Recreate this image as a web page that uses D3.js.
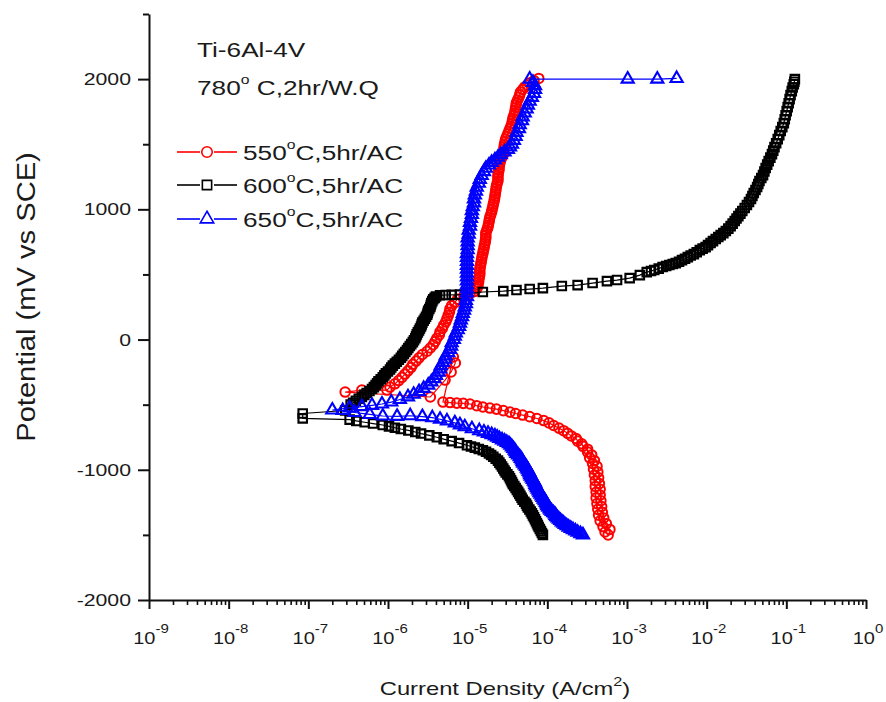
<!DOCTYPE html>
<html>
<head>
<meta charset="utf-8">
<script src="https://cdn.jsdelivr.net/npm/d3@7"></script>
<style>
  body { margin: 0; background: #fff; }
  text { font-family: "Liberation Sans", Arial, sans-serif; fill: #1a1a1a; }
</style>
</head>
<body>
<div id="chart"></div>
<script>
// current density (A/cm2), potential (mV vs SCE) in scan order
const red550 = [
  [5.8e-4,-1500],[5.3e-4,-1478],[6.1e-4,-1458],[5.0e-4,-1436],[5.5e-4,-1414],[4.6e-4,-1392],[5.1e-4,-1370],[4.4e-4,-1348],
  [4.9e-4,-1326],[4.3e-4,-1304],[4.8e-4,-1282],[4.2e-4,-1260],[4.7e-4,-1238],[4.1e-4,-1216],[4.6e-4,-1194],[4.1e-4,-1172],
  [4.6e-4,-1150],[4.0e-4,-1128],[4.5e-4,-1106],[4.0e-4,-1084],[4.4e-4,-1062],[3.9e-4,-1040],[4.3e-4,-1018],[3.8e-4,-996],
  [4.2e-4,-974],[3.7e-4,-952],[3.9e-4,-930],[3.4e-4,-908],[3.6e-4,-886],[3.2e-4,-864],[3.2e-4,-842],[2.8e-4,-820],
  [2.7e-4,-800],[2.4e-4,-780],[2.3e-4,-760],[2.0e-4,-740],[1.8e-4,-720],[1.6e-4,-700],[1.4e-4,-680],[1.2e-4,-660],
  [1.05e-4,-640],[9.0e-5,-622],[7.4e-5,-606],[6.0e-5,-592],[4.9e-5,-580],[4.0e-5,-568],[3.4e-5,-557],[2.8e-5,-546],
  [2.3e-5,-534],[1.9e-5,-526],[1.55e-5,-518],[1.3e-5,-508],[1.07e-5,-495],[8.8e-6,-490],[7.3e-6,-488],[6.0e-6,-484],
  [4.9e-6,-480],[6.6e-6,-134],[7.0e-6,-180],[6.2e-6,-249],[5.2e-6,-311],[3.4e-6,-441],
  [2.9e-7,-403],[4.7e-7,-388],
  [9.7e-7,-388],[1.06e-6,-365],[1.22e-6,-340],[1.36e-6,-315],[1.5e-6,-290],[1.63e-6,-265],[1.78e-6,-240],[1.94e-6,-215],
  [2.05e-6,-190],[2.25e-6,-165],[2.45e-6,-140],[2.7e-6,-115],[3.1e-6,-90],[3.4e-6,-65],[3.7e-6,-40],[3.9e-6,-15],
  [4.1e-6,10],[4.4e-6,35],[4.5e-6,60],[4.8e-6,85],[5.0e-6,110],[5.3e-6,135],[5.5e-6,160],[5.7e-6,185],[5.9e-6,210],
  [6.0e-6,235],[6.3e-6,260],[6.9e-6,285],[7.5e-6,310],[9.0e-6,335],[1.07e-5,355],[1.23e-5,370],[1.3e-5,390],
  [1.33e-5,405],[1.35e-5,420],[1.37e-5,440],[1.38e-5,460],[1.4e-5,480],[1.42e-5,500],[1.42e-5,520],[1.42e-5,540],
  [1.44e-5,560],[1.46e-5,580],[1.48e-5,600],[1.5e-5,620],[1.52e-5,640],[1.55e-5,660],[1.57e-5,680],[1.6e-5,700],
  [1.62e-5,720],[1.65e-5,740],[1.67e-5,760],[1.69e-5,780],[1.69e-5,800],[1.69e-5,820],[1.74e-5,840],[1.79e-5,860],
  [1.82e-5,880],[1.85e-5,900],[1.87e-5,920],[1.9e-5,940],[1.95e-5,960],[2.0e-5,980],[2.03e-5,1000],[2.07e-5,1020],
  [2.1e-5,1040],[2.14e-5,1060],[2.17e-5,1080],[2.2e-5,1100],[2.22e-5,1120],[2.25e-5,1140],[2.27e-5,1160],[2.3e-5,1180],
  [2.35e-5,1200],[2.4e-5,1220],[2.4e-5,1240],[2.4e-5,1260],[2.43e-5,1280],[2.47e-5,1300],[2.48e-5,1320],[2.5e-5,1340],
  [2.55e-5,1360],[2.6e-5,1380],[2.7e-5,1400],[2.8e-5,1420],[2.82e-5,1440],[2.85e-5,1460],[2.87e-5,1480],[2.9e-5,1500],
  [2.95e-5,1520],[3.0e-5,1540],[3.1e-5,1560],[3.2e-5,1580],[3.3e-5,1600],[3.4e-5,1620],[3.5e-5,1640],[3.6e-5,1660],
  [3.65e-5,1680],[3.7e-5,1700],[3.8e-5,1720],[3.9e-5,1740],[3.95e-5,1760],[4.0e-5,1780],[4.05e-5,1800],[4.1e-5,1820],
  [4.25e-5,1840],[4.4e-5,1860],[4.5e-5,1880],[4.6e-5,1900],[4.9e-5,1920],[5.2e-5,1940],[5.6e-5,1955],[6.0e-5,1970],
  [6.8e-5,1988],[7.8e-5,2005]
];

const black600 = [
  [8.8e-5,-1500],[8.55e-5,-1485],[8.3e-5,-1470],[8.05e-5,-1455],[7.8e-5,-1440],[7.6e-5,-1425],[7.4e-5,-1410],[7.2e-5,-1395],
  [7.0e-5,-1380],[6.8e-5,-1365],[6.6e-5,-1350],[6.4e-5,-1335],[6.2e-5,-1320],[5.95e-5,-1305],[5.7e-5,-1290],[5.55e-5,-1275],
  [5.4e-5,-1260],[5.15e-5,-1245],[4.9e-5,-1230],[4.75e-5,-1215],[4.6e-5,-1200],[4.45e-5,-1185],[4.3e-5,-1170],[4.15e-5,-1155],
  [4.0e-5,-1140],[3.85e-5,-1125],[3.7e-5,-1110],[3.6e-5,-1095],[3.5e-5,-1080],[3.4e-5,-1065],[3.3e-5,-1050],[3.15e-5,-1035],
  [3.0e-5,-1020],[2.9e-5,-1005],[2.8e-5,-990],[2.7e-5,-975],[2.6e-5,-960],[2.5e-5,-945],[2.4e-5,-930],[2.25e-5,-915],
  [2.1e-5,-900],[1.97e-5,-887],[1.85e-5,-875],[1.7e-5,-862],[1.55e-5,-850],[1.38e-5,-840],[1.23e-5,-830],[1.1e-5,-821],
  [9.8e-6,-812],[7.8e-6,-795],[6.3e-6,-780],[5.0e-6,-765],[4.1e-6,-750],[3.3e-6,-736],[2.6e-6,-722],[2.2e-6,-710],
  [1.8e-6,-698],[1.45e-6,-687],[1.22e-6,-677],[1.03e-6,-667],[8.6e-7,-656],[6.5e-7,-645],[5.1e-7,-635],[4.0e-7,-625],
  [3.3e-7,-615],[8.5e-8,-605],[8.5e-8,-568],
  [2.9e-7,-545],[3.4e-7,-500],[3.65e-7,-485],[3.95e-7,-470],[4.3e-7,-455],[4.7e-7,-440],[5.05e-7,-425],[5.4e-7,-410],
  [5.85e-7,-395],[6.3e-7,-380],[6.65e-7,-365],[7.0e-7,-350],[7.3e-7,-335],[7.6e-7,-320],[8.1e-7,-305],[8.6e-7,-290],
  [9.0e-7,-275],[9.4e-7,-260],[1.0e-6,-245],[1.06e-6,-230],[1.1e-6,-215],[1.15e-6,-200],[1.22e-6,-185],[1.29e-6,-170],
  [1.37e-6,-155],[1.45e-6,-140],[1.51e-6,-125],[1.58e-6,-110],[1.65e-6,-95],[1.73e-6,-80],[1.8e-6,-65],[1.88e-6,-50],
  [1.96e-6,-35],[2.05e-6,-20],[2.12e-6,-5],[2.2e-6,10],[2.25e-6,25],[2.3e-6,40],[2.37e-6,55],[2.45e-6,70],[2.52e-6,85],
  [2.6e-6,100],[2.65e-6,115],[2.7e-6,130],[2.8e-6,145],[2.9e-6,160],[3.0e-6,175],[3.1e-6,190],[3.15e-6,205],[3.2e-6,220],
  [3.3e-6,235],[3.4e-6,250],[3.45e-6,265],[3.5e-6,280],[3.6e-6,295],[3.7e-6,310],[3.85e-6,320],[4.0e-6,330],[4.5e-6,340],
  [5.3e-6,342],[6.3e-6,343],[8.0e-6,345],
  [1.55e-5,365],[2.8e-5,372],[4.1e-5,380],[6.0e-5,388],[8.8e-5,395],[1.52e-4,411],[2.4e-4,418],[3.7e-4,434],
  [5.6e-4,449],[7.5e-4,457],[1.08e-3,472],[1.45e-3,495],[1.77e-3,518],
  [2.0e-3,526],[2.2e-3,534],[2.5e-3,545],[2.8e-3,557],[3.1e-3,565],[3.4e-3,572],[3.75e-3,580],[4.1e-3,587],[4.5e-3,598],
  [4.9e-3,610],[5.35e-3,621],[5.8e-3,633],[6.3e-3,645],[6.9e-3,656],[7.5e-3,671],[8.2e-3,687],[8.9e-3,698],[9.7e-3,710],
  [1.04e-2,725],[1.12e-2,741],[1.2e-2,756],[1.3e-2,772],[1.4e-2,787],[1.5e-2,802],[1.62e-2,817],[1.74e-2,833],
  [1.87e-2,852],[2.0e-2,871],[2.12e-2,890],[2.25e-2,910],[2.37e-2,929],[2.5e-2,948],[2.65e-2,967],[2.8e-2,987],
  [3.0e-2,1010],[3.2e-2,1033],[3.4e-2,1056],[3.6e-2,1079],[3.75e-2,1102],[3.9e-2,1125],[4.1e-2,1148],[4.3e-2,1171],
  [4.45e-2,1194],[4.6e-2,1217],[4.85e-2,1240],[5.1e-2,1263],[5.3e-2,1290],[5.5e-2,1317],[5.75e-2,1343],[6.0e-2,1370],
  [6.3e-2,1397],[6.6e-2,1424],[6.85e-2,1451],[7.1e-2,1478],[7.45e-2,1508],[7.8e-2,1539],[8.15e-2,1570],[8.5e-2,1601],
  [8.9e-2,1631],[9.3e-2,1662],[9.55e-2,1692],[9.8e-2,1723],[0.101,1754],[0.104,1785],[0.107,1815],[0.11,1846],
  [0.113,1877],[0.117,1908],[0.12,1935],[0.124,1961],[0.126,1980],[0.128,2000]
];

const blue650 = [
  [2.8e-4,-1500],[2.6e-4,-1490],[2.4e-4,-1480],[2.25e-4,-1470],[2.1e-4,-1460],[1.97e-4,-1450],[1.85e-4,-1440],[1.75e-4,-1430],
  [1.66e-4,-1420],[1.59e-4,-1410],[1.52e-4,-1400],[1.46e-4,-1390],[1.4e-4,-1380],[1.35e-4,-1370],[1.3e-4,-1360],[1.27e-4,-1350],
  [1.24e-4,-1340],[1.19e-4,-1330],[1.14e-4,-1320],[1.1e-4,-1310],[1.07e-4,-1300],[1.03e-4,-1287],[1.0e-4,-1275],[9.8e-5,-1262],
  [9.6e-5,-1250],[9.3e-5,-1237],[9.0e-5,-1225],[8.75e-5,-1212],[8.5e-5,-1200],[8.25e-5,-1187],[8.0e-5,-1175],[7.8e-5,-1162],
  [7.6e-5,-1150],[7.4e-5,-1137],[7.2e-5,-1125],[7.1e-5,-1112],[7.0e-5,-1100],[6.8e-5,-1087],[6.6e-5,-1075],[6.4e-5,-1062],
  [6.2e-5,-1050],[6.1e-5,-1037],[6.0e-5,-1025],[5.85e-5,-1012],[5.7e-5,-1000],[5.55e-5,-987],[5.4e-5,-975],[5.2e-5,-962],
  [5.0e-5,-950],[4.9e-5,-937],[4.8e-5,-925],[4.65e-5,-912],[4.5e-5,-900],[4.3e-5,-887],[4.1e-5,-875],[4.0e-5,-862],
  [3.9e-5,-850],[3.75e-5,-837],[3.6e-5,-825],[3.45e-5,-812],[3.3e-5,-800],[3.1e-5,-790],[2.9e-5,-780],[2.7e-5,-770],
  [2.5e-5,-760],[2.35e-5,-750],[2.2e-5,-740],[2.0e-5,-730],[1.8e-5,-720],[1.6e-5,-710],[1.4e-5,-700],[1.13e-5,-685],
  [9.2e-6,-670],[8.0e-6,-655],[6.9e-6,-640],[5.5e-6,-625],[4.5e-6,-612],[3.6e-6,-600],[2.7e-6,-592],[1.9e-6,-585],
  [1.3e-6,-590],[8.6e-7,-587],[5.9e-7,-575],[3.8e-7,-560],[2.7e-7,-545],[2.0e-7,-541],
  [3.3e-7,-525],[4.7e-7,-515],[6.3e-7,-505],[8.4e-7,-495],[1.1e-6,-480],[1.41e-6,-460],[1.78e-6,-440],[2.1e-6,-420],
  [2.45e-6,-400],[2.8e-6,-375],[3.2e-6,-350],[3.5e-6,-325],[3.8e-6,-300],[4.0e-6,-275],[4.3e-6,-250],[4.5e-6,-225],
  [4.6e-6,-200],[4.9e-6,-175],[5.2e-6,-150],[5.3e-6,-125],[5.7e-6,-100],[6.0e-6,-75],[6.2e-6,-50],[6.3e-6,-25],
  [6.7e-6,0],[6.9e-6,25],[7.1e-6,50],[7.5e-6,75],[7.8e-6,100],[8.0e-6,125],[8.2e-6,150],[8.5e-6,175],[8.7e-6,200],
  [9.0e-6,225],[9.2e-6,250],[9.5e-6,275],[9.5e-6,300],[9.8e-6,330],[9.8e-6,360],[9.8e-6,390],[9.8e-6,420],[9.8e-6,450],
  [9.8e-6,480],[9.8e-6,510],[9.8e-6,540],[9.8e-6,570],[9.8e-6,600],[9.8e-6,630],[9.8e-6,660],[1.0e-5,690],[1.0e-5,720],
  [1.0e-5,750],[1.0e-5,780],[1.03e-5,810],[1.03e-5,840],[1.07e-5,870],[1.07e-5,900],[1.1e-5,930],[1.13e-5,960],
  [1.13e-5,990],[1.16e-5,1020],[1.2e-5,1050],[1.2e-5,1080],[1.23e-5,1110],[1.27e-5,1140],[1.3e-5,1170],[1.38e-5,1200],
  [1.42e-5,1230],[1.5e-5,1260],[1.6e-5,1290],[1.69e-5,1315],[1.85e-5,1340],[2.0e-5,1360],[2.2e-5,1380],[2.4e-5,1400],
  [2.6e-5,1420],[2.9e-5,1440],[3.2e-5,1460],[3.4e-5,1480],[3.6e-5,1500],[3.8e-5,1530],[4.0e-5,1560],[4.1e-5,1590],
  [4.4e-5,1620],[4.5e-5,1650],[4.8e-5,1680],[4.9e-5,1710],[5.2e-5,1740],[5.5e-5,1770],[5.7e-5,1800],[6.0e-5,1830],
  [6.4e-5,1860],[6.8e-5,1890],[7.0e-5,1920],[7.0e-5,1950],[6.6e-5,1975],[6.0e-5,2000],
  [1.02e-3,2000],[2.4e-3,2000],[4.2e-3,2005]
];

const legendTemps = ["550", "600", "650"];
const legendRest = "C,5hr/AC";
const noteLines = ["Ti-6Al-4V", "780"];
const xExponents = [-9, -8, -7, -6, -5, -4, -3, -2, -1, 0];
const yMajor = [-2000, -1000, 0, 1000, 2000];
const yMinor = [-1500, -500, 500, 1500, 2500];

const W = 886, H = 702;
const svg = d3.select('#chart').append('svg')
  .attr('width', W)
  .attr('height', H);

const x = d3.scaleLog().domain([1e-9, 1]).range([149, 866]);
const y = d3.scaleLinear().domain([-2000, 2500]).range([600, 14]);

// text in the original is wider than the font, so stretch it
function label(tx, ty, size, anchor, sx) {
  return svg.append('text')
    .attr('transform', `translate(${tx},${ty}) scale(${sx || 1.25},1)`)
    .attr('font-size', size)
    .attr('text-anchor', anchor || 'start');
}

// x axis
const xMajorVals = xExponents.map(e => Math.pow(10, e));
const xMinorVals = x.ticks().filter(v => !xMajorVals.some(m => Math.abs(m - v) / m < 1e-6));
svg.append('g')
  .attr('transform', 'translate(0,600)')
  .call(d3.axisBottom(x).tickValues(xMinorVals).tickSize(5).tickSizeOuter(0).tickFormat(''))
  .call(g => g.select('.domain').remove())
  .call(g => g.selectAll('line').attr('stroke', '#111').attr('stroke-width', 1.6));
svg.append('g')
  .attr('transform', 'translate(0,600)')
  .call(d3.axisBottom(x).tickValues(xMajorVals).tickSize(9).tickSizeOuter(0).tickFormat(''))
  .call(g => g.select('.domain').attr('stroke', '#111').attr('stroke-width', 2))
  .call(g => g.selectAll('line').attr('stroke', '#111').attr('stroke-width', 2));

xExponents.forEach(e => {
  const t = label(x(Math.pow(10, e)) + 2, 644, 16, 'middle');
  t.append('tspan').text('10');
  t.append('tspan').attr('font-size', 12).attr('dy', -11).text(e === 0 ? '0' : '-' + Math.abs(e));
});

// y axis
svg.append('g')
  .attr('transform', 'translate(149,0)')
  .call(d3.axisLeft(y).tickValues(yMinor).tickSize(6).tickSizeOuter(0).tickFormat(''))
  .call(g => g.select('.domain').remove())
  .call(g => g.selectAll('line').attr('stroke', '#111').attr('stroke-width', 2));
svg.append('g')
  .attr('transform', 'translate(149,0)')
  .call(d3.axisLeft(y).tickValues(yMajor).tickSize(11).tickSizeOuter(0).tickFormat(''))
  .call(g => g.select('.domain').attr('stroke', '#111').attr('stroke-width', 2))
  .call(g => g.selectAll('line').attr('stroke', '#111').attr('stroke-width', 2));

yMajor.forEach(v => {
  label(131, y(v) + 6, 17, 'end').text(v < 0 ? '-' + Math.abs(v) : v);
});

// axis titles
const xt = label(505, 695, 19, 'middle');
xt.append('tspan').text('Current Density (A/cm');
xt.append('tspan').attr('font-size', 13).attr('dy', -9).text('2');
xt.append('tspan').attr('dy', 9).text(')');

svg.append('text')
  .attr('transform', 'translate(35,297) rotate(-90) scale(1.12,1)')
  .attr('font-size', 26)
  .attr('text-anchor', 'middle')
  .text('Potential (mV vs SCE)');

// series: thin line under hollow markers, drawn red, black, blue
function drawSeries(data, color, symbol, size, sw) {
  const g = svg.append('g');
  g.append('path')
    .datum(data)
    .attr('d', d3.line().x(d => x(d[0])).y(d => y(d[1])))
    .attr('fill', 'none')
    .attr('stroke', color)
    .attr('stroke-width', 1.2);
  g.selectAll('path.pt')
    .data(data)
    .join('path')
    .attr('class', 'pt')
    .attr('transform', d => `translate(${x(d[0])},${y(d[1])})`)
    .attr('d', d3.symbol(symbol, size)())
    .attr('fill', 'none')
    .attr('stroke', color)
    .attr('stroke-width', sw);
}

const styles = [
  { data: red550, color: '#ff0000', symbol: d3.symbolCircle, size: 72, sw: 2 },
  { data: black600, color: '#000000', symbol: d3.symbolSquare, size: 72, sw: 2.1 },
  { data: blue650, color: '#0000ff', symbol: d3.symbolTriangle, size: 64, sw: 2.1 }
];
styles.forEach(s => drawSeries(s.data, s.color, s.symbol, s.size, s.sw));

// annotation
label(197, 57, 20, 'start', 1.31).text(noteLines[0]);
const n2 = label(197, 95, 20, 'start', 1.31);
n2.append('tspan').text(noteLines[1]);
n2.append('tspan').attr('font-size', 12).attr('dy', -11).text('o');
n2.append('tspan').attr('dy', 11).text(' C,2hr/W.Q');

// legend
const legendY = [152, 185, 219];
styles.forEach((s, i) => {
  const ly = legendY[i];
  svg.append('line').attr('x1', 177).attr('x2', 200).attr('y1', ly).attr('y2', ly)
    .attr('stroke', s.color).attr('stroke-width', 1.6);
  svg.append('line').attr('x1', 214).attr('x2', 237).attr('y1', ly).attr('y2', ly)
    .attr('stroke', s.color).attr('stroke-width', 1.6);
  svg.append('path')
    .attr('transform', `translate(207,${ly})`)
    .attr('d', d3.symbol(s.symbol, s.size + 14)())
    .attr('fill', 'none')
    .attr('stroke', s.color)
    .attr('stroke-width', 1.6);
  const t = label(243, ly + 8, 20, 'start', 1.31);
  t.append('tspan').text(legendTemps[i]);
  t.append('tspan').attr('font-size', 12).attr('dy', -11).text('o');
  t.append('tspan').attr('dy', 11).text(legendRest);
});
</script>
</body>
</html>
